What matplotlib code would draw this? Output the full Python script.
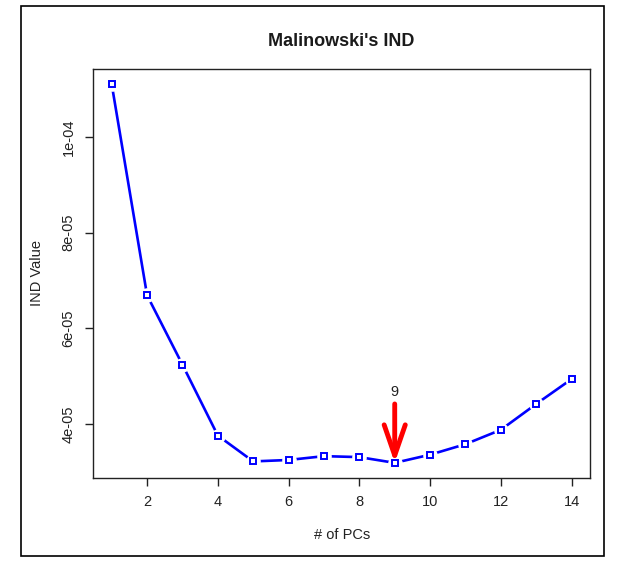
import matplotlib
matplotlib.use('Agg')
import matplotlib.pyplot as plt
from matplotlib.patches import Rectangle
import numpy as np

plt.rcParams['font.family'] = ['Liberation Sans', 'DejaVu Sans']

# Malinowski's IND for 1..14 principal components
n_pcs = np.arange(1, 15)
ind_value = np.array([11.10, 6.69, 5.24, 3.76, 3.22, 3.25, 3.33,
                      3.31, 3.19, 3.36, 3.58, 3.88, 4.42, 4.94]) * 1e-5

best_pc = 9
arrow_top = 4.42e-5
label_y = 4.67e-5

x_ticks = [2, 4, 6, 8, 10, 12, 14]
y_ticks = [4e-5, 6e-5, 8e-5, 1e-4]
y_tick_labels = ['4e-05', '6e-05', '8e-05', '1e-04']

W, H = 634, 565
fig = plt.figure(figsize=(W / 100, H / 100), dpi=100)
ax = fig.add_axes([93.3 / W, 1 - 478 / H, (590 - 93.3) / W, (478 - 69) / H])

# R-style 4% padding on the data range
pad_x = 0.04 * (n_pcs.max() - n_pcs.min())
pad_y = 0.04 * (ind_value.max() - ind_value.min())
ax.set_xlim(n_pcs.min() - pad_x, n_pcs.max() + pad_x)
ax.set_ylim(ind_value.min() - pad_y, ind_value.max() + pad_y)

# line with gaps around the points (type = "b")
ax.plot(n_pcs, ind_value, color='#0000ff', lw=1.9, zorder=2)
ax.plot(n_pcs, ind_value, ls='none', marker='o', ms=10.5, mfc='white', mec='none', zorder=3)
ax.plot(n_pcs, ind_value, ls='none', marker='s', ms=3.8, mfc='white', mec='#0000ff', mew=1.4, zorder=4)

# arrow pointing at the chosen number of PCs
ax.annotate('', xy=(best_pc, ind_value[best_pc - 1]), xytext=(best_pc, arrow_top),
            arrowprops=dict(arrowstyle='->,head_length=1.1,head_width=0.38', color='#ff0000',
                            lw=3.5, shrinkA=0, shrinkB=0, mutation_scale=20), zorder=5)
ax.text(best_pc, label_y, str(best_pc), ha='center', va='center', fontsize=10.5, color='#222222')

ax.set_xticks(x_ticks)
ax.set_yticks(y_ticks)
ax.set_yticklabels(y_tick_labels, rotation=90, va='center')
ax.tick_params(direction='out', length=5.8, width=1, labelsize=10.5, colors='#222222', pad=6.5)
ax.tick_params(axis='y', pad=7)
for s in ax.spines.values():
    s.set_linewidth(1)
    s.set_color('#222222')

ax.set_title("Malinowski's IND", fontsize=13, fontweight='bold', color='#1a1a1a', pad=16.8)
ax.set_xlabel('# of PCs', fontsize=10.5, color='#222222')
ax.set_ylabel('IND Value', fontsize=10.5, color='#222222')
ax.xaxis.set_label_coords(0.5, -0.122)
ax.yaxis.set_label_coords(-0.1, 0.5)

# outer frame
fig.patches.append(Rectangle((20.7 / W, 1 - 556 / H), (604.3 - 20.7) / W, (556 - 6) / H,
                             transform=fig.transFigure, fill=False, ec='black', lw=1.2))

fig.savefig('out.png', dpi=100)
